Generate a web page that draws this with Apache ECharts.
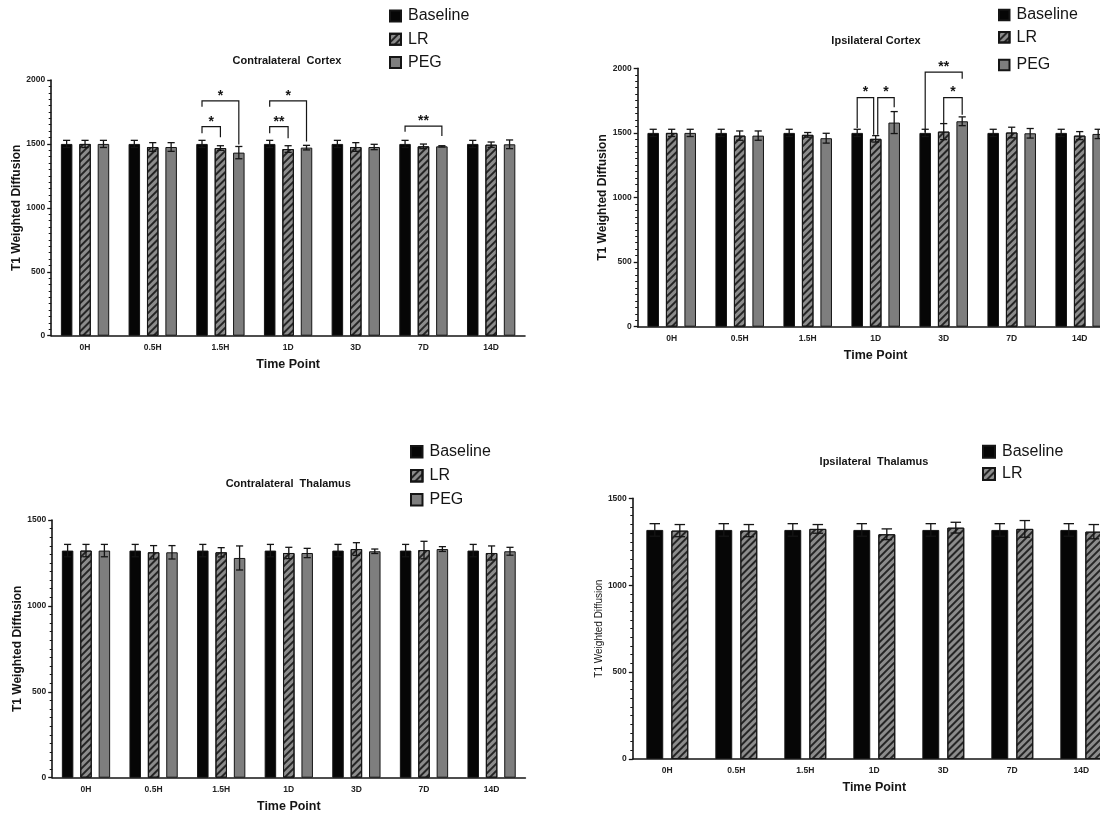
<!DOCTYPE html>
<html><head><meta charset="utf-8">
<script src="https://cdn.jsdelivr.net/npm/echarts@6/dist/echarts.min.js"></script>
<style>html,body{margin:0;padding:0;background:#fff}#c{width:1100px;height:814px}</style>
</head><body><div id="c"></div>
<script>
// ---------- data ----------
const categories = ['0H', '0.5H', '1.5H', '1D', '3D', '7D', '14D'];
const yTicks2000 = [0, 500, 1000, 1500, 2000];
const yTicks1500 = [0, 500, 1000, 1500];

// Contralateral Cortex
const ccBaseline    = [1500, 1500, 1500, 1500, 1500, 1500, 1500];
const ccBaselineErr = [28, 28, 28, 28, 28, 28, 28];
const ccLR          = [1500, 1476, 1468, 1460, 1476, 1481, 1494];
const ccLRErr       = [28, 34, 18, 26, 34, 18, 21];
const ccPEG         = [1500, 1476, 1432, 1471, 1476, 1481, 1497];
const ccPEGErr      = [28, 34, 48, 18, 21, 5, 34];
// brackets: [category, from, to, leftLegBottom, top, rightLegBottom, label]
const ccBrackets = [
  ['1.5H', 'Baseline', 'LR', 1583, 1635, 1552, '*'],
  ['1.5H', 'Baseline', 'PEG', 1791, 1836, 1495, '*'],
  ['1D', 'Baseline', 'LR', 1583, 1635, 1544, '**'],
  ['1D', 'Baseline', 'PEG', 1791, 1836, 1518, '*'],
  ['7D', 'Baseline', 'PEG', 1596, 1640, 1562, '**']
];

// Ipsilateral Cortex
const icBaseline    = [1500, 1500, 1500, 1500, 1500, 1500, 1500];
const icBaselineErr = [28, 28, 28, 28, 28, 28, 28];
const icLR          = [1500, 1479, 1485, 1454, 1510, 1503, 1479];
const icLRErr       = [28, 36, 18, 25, 62, 41, 31];
const icPEG         = [1500, 1479, 1459, 1580, 1590, 1497, 1492];
const icPEGErr      = [28, 36, 38, 85, 34, 37, 36];
const icBrackets = [
  ['1D', 'Baseline', 'LR', 1537, 1773, 1485, '*'],
  ['1D', 'LR', 'PEG', 1485, 1773, 1699, '*'],
  ['3D', 'Baseline', 'PEG', 1506, 1970, 1920, '**'],
  ['3D', 'LR', 'PEG', 1575, 1773, 1640, '*']
];

// Contralateral Thalamus
const ctBaseline    = [1322, 1322, 1322, 1322, 1322, 1322, 1322];
const ctBaselineErr = [36, 36, 36, 36, 36, 36, 36];
const ctLR          = [1322, 1312, 1312, 1308, 1331, 1325, 1308];
const ctLRErr       = [36, 39, 27, 33, 37, 51, 41];
const ctPEG         = [1322, 1312, 1279, 1308, 1318, 1331, 1318];
const ctPEGErr      = [36, 39, 70, 27, 13, 14, 23];

// Ipsilateral Thalamus
const itBaseline    = [1318, 1318, 1318, 1318, 1318, 1318, 1318];
const itBaselineErr = [36, 36, 36, 36, 36, 36, 36];
const itLR          = [1314, 1314, 1324, 1293, 1331, 1324, 1308];
const itLRErr       = [35, 35, 25, 31, 31, 48, 41];

// ---------- styles ----------
const FONT = '"Liberation Sans", Arial, sans-serif';
const INK = '#151515';
const barStyles = {
  Baseline: { color: '#060606', borderColor: INK, borderWidth: 1 },
  LR: {
    color: '#8c8c8c', borderColor: INK, borderWidth: 1,
    decal: { symbol: 'rect', symbolSize: 1, color: 'rgba(25,25,25,0.9)',
             dashArrayX: [1, 0], dashArrayY: [1.6, 2.4], rotation: -Math.PI / 4 }
  },
  PEG: { color: '#7e7e7e', borderColor: INK, borderWidth: 1 }
};

const panels = [
  { title: 'Contralateral  Cortex', titleXY: [287, 61],
    grid: { left: 51.2, top: 80, width: 473.8, height: 255.7 },
    yMax: 2000, yTicks: yTicks2000, yNameSize: 12, yNameWeight: 'bold', yNameGap: 27,
    names: ['Baseline', 'LR', 'PEG'], values: [ccBaseline, ccLR, ccPEG], errs: [ccBaselineErr, ccLRErr, ccPEGErr],
    brackets: ccBrackets, barW: 0.17, gap: 0.6,
    legends: [{ left: 389, top: 8, itemGap: 7.3, size: 11, names: ['Baseline', 'LR', 'PEG'] }] },
  { title: 'Ipsilateral Cortex', titleXY: [876, 40.7],
    grid: { left: 637.7, top: 68.3, width: 476, height: 258.4 },
    yMax: 2000, yTicks: yTicks2000, yNameSize: 12, yNameWeight: 'bold', yNameGap: 28,
    names: ['Baseline', 'LR', 'PEG'], values: [icBaseline, icLR, icPEG], errs: [icBaselineErr, icLRErr, icPEGErr],
    brackets: icBrackets, barW: 0.17, gap: 0.6,
    legends: [{ left: 998, top: 7, itemGap: 6.3, size: 10.5, names: ['Baseline', 'LR'] },
              { left: 998, top: 57, itemGap: 6.3, size: 10.5, names: ['PEG'] }] },
  { title: 'Contralateral  Thalamus', titleXY: [288.3, 484],
    grid: { left: 52.2, top: 520, width: 473.2, height: 257.7 },
    yMax: 1500, yTicks: yTicks1500, yNameSize: 12, yNameWeight: 'bold', yNameGap: 28,
    names: ['Baseline', 'LR', 'PEG'], values: [ctBaseline, ctLR, ctPEG], errs: [ctBaselineErr, ctLRErr, ctPEGErr],
    brackets: [], barW: 0.17, gap: 0.6,
    legends: [{ left: 410, top: 443.7, itemGap: 8, size: 11.5, names: ['Baseline', 'LR', 'PEG'] }] },
  { title: 'Ipsilateral  Thalamus', titleXY: [874, 462.3],
    grid: { left: 632.8, top: 498.3, width: 483, height: 260.7 },
    yMax: 1500, yTicks: yTicks1500, yNameSize: 10, yNameWeight: 'normal', yNameGap: 26,
    names: ['Baseline', 'LR'], values: [itBaseline, itLR], errs: [itBaselineErr, itLRErr],
    brackets: [], barW: 0.245, gap: 0.48,
    legends: [{ left: 982, top: 443.7, itemGap: 6.3, size: 12, names: ['Baseline', 'LR'] }] }
];

// ---------- option ----------
const option = { animation: false, backgroundColor: '#fff', grid: [], xAxis: [], yAxis: [], series: [], legend: [], graphic: [] };
const NUDGE = 0.03;

panels.forEach((p, g) => {
  option.grid.push(Object.assign({ containLabel: false, outerBoundsMode: 'none' }, p.grid));
  option.xAxis.push({
    type: 'category', gridIndex: g, data: categories,
    axisLine: { onZero: false, lineStyle: { color: INK, width: 1.6 } },
    axisTick: { alignWithLabel: true, length: 4, lineStyle: { color: INK, width: 1.3 } },
    axisLabel: { fontSize: 8.5, fontWeight: 'bold', color: '#222', fontFamily: FONT, margin: 7 },
    name: 'Time Point', nameLocation: 'middle', nameGap: 22.5,
    nameTextStyle: { fontSize: 12.5, fontWeight: 'bold', color: INK, fontFamily: FONT }
  });
  option.xAxis.push({ type: 'value', gridIndex: g, min: -0.5, max: categories.length - 0.5, show: false,
                      axisLine: { onZero: false } });
  option.yAxis.push({
    type: 'value', gridIndex: g, min: p.yTicks[0], max: p.yMax, interval: p.yTicks[1] - p.yTicks[0],
    axisLine: { show: true, onZero: false, lineStyle: { color: INK, width: 1.6 } },
    axisTick: { show: true, length: 4, lineStyle: { color: INK, width: 1.3 } },
    minorTick: { show: true, splitNumber: 10, length: 2.5, lineStyle: { color: INK, width: 1 } },
    splitLine: { show: false },
    axisLabel: { fontSize: 8.5, fontWeight: 'bold', color: '#222', fontFamily: FONT, margin: 6,
                 formatter: v => String(v) },
    name: 'T1 Weighted Diffusion', nameLocation: 'middle', nameGap: p.yNameGap,
    nameTextStyle: { fontSize: p.yNameSize, fontWeight: p.yNameWeight, color: INK, fontFamily: FONT }
  });
  const catAx = 2 * g, valAx = 2 * g + 1;
  const n = p.names.length;
  const step = p.barW * (1 + p.gap);
  const off = k => (k - (n - 1) / 2) * step;

  p.names.forEach((nm, k) => {
    option.series.push({
      type: 'bar', name: nm, xAxisIndex: catAx, yAxisIndex: g, data: p.values[k],
      barWidth: (p.barW * 100) + '%', barGap: (p.gap * 100) + '%',
      itemStyle: barStyles[nm], z: 2, emphasis: { disabled: true }
    });
  });
  // error bars
  p.names.forEach((nm, k) => {
    const d = categories.map((c, i) => [i + off(k), p.values[k][i], p.errs[k][i]]);
    option.series.push({
      type: 'custom', xAxisIndex: valAx, yAxisIndex: g, data: d, z: 5, silent: true,
      encode: { x: 0, y: 1 },
      renderItem: (params, api) => {
        const x = api.value(0), v = api.value(1), e = api.value(2);
        const hi = api.coord([x, v + e]), lo = api.coord([x, v - e]);
        const band = api.size([1, 0])[0];
        const hw = 0.31 * p.barW * band;
        const st = { stroke: INK, lineWidth: 1.3 };
        return { type: 'group', children: [
          { type: 'line', shape: { x1: hi[0], y1: hi[1], x2: lo[0], y2: lo[1] }, style: st },
          { type: 'line', shape: { x1: hi[0] - hw, y1: hi[1], x2: hi[0] + hw, y2: hi[1] }, style: st },
          { type: 'line', shape: { x1: lo[0] - hw, y1: lo[1], x2: lo[0] + hw, y2: lo[1] }, style: st }
        ] };
      }
    });
  });
  // significance brackets
  if (p.brackets.length) {
    const labels = [];
    const rows = p.brackets.map(b => {
      const i = categories.indexOf(b[0]);
      const kf = p.names.indexOf(b[1]), kt = p.names.indexOf(b[2]);
      let x0 = i + off(kf), x1 = i + off(kt);
      p.brackets.forEach(o => {
        if (o === b || o[0] !== b[0]) return;
        if (o[1] === b[2] && o[4] === b[4]) x1 -= NUDGE;
        if (o[2] === b[1] && o[4] === b[4]) x0 += NUDGE;
      });
      labels.push(b[6]);
      return [x0, b[3], x1, b[4], b[5]];
    });
    option.series.push({
      type: 'custom', xAxisIndex: valAx, yAxisIndex: g, data: rows, z: 6, silent: true,
      encode: { x: [0, 2], y: [1, 3, 4] },
      renderItem: (params, api) => {
        const x0 = api.value(0), yl = api.value(1), x1 = api.value(2), yt = api.value(3), yr = api.value(4);
        const a = api.coord([x0, yl]), b = api.coord([x0, yt]), c = api.coord([x1, yt]), d = api.coord([x1, yr]);
        return { type: 'group', children: [
          { type: 'polyline', shape: { points: [a, b, c, d] }, style: { stroke: INK, lineWidth: 1.2, fill: null } },
          { type: 'text', x: (b[0] + c[0]) / 2, y: b[1] - 5,
            style: { text: labels[params.dataIndex], align: 'center', verticalAlign: 'middle',
                     fontSize: 14, fontWeight: 'bold', fontFamily: FONT, fill: INK } }
        ] };
      }
    });
  }
  option.graphic.push({
    type: 'text', x: p.titleXY[0], y: p.titleXY[1], silent: true,
    style: { text: p.title, align: 'center', verticalAlign: 'middle', fontSize: 11, fontWeight: 'bold', fontFamily: FONT, fill: INK }
  });
  p.legends.forEach(L => {
    option.legend.push({
      orient: 'vertical', left: L.left, top: L.top, itemGap: L.itemGap, padding: 0,
      itemWidth: L.size, itemHeight: L.size, icon: 'rect', data: L.names, selectedMode: false,
      textStyle: { fontSize: 16, fontFamily: FONT, color: INK, lineHeight: 16, padding: [0, 0, 0, 2] }
    });
  });
});

const chart = echarts.init(document.getElementById('c'), null, { renderer: 'canvas' });
chart.setOption(option);
</script>
</body></html>
